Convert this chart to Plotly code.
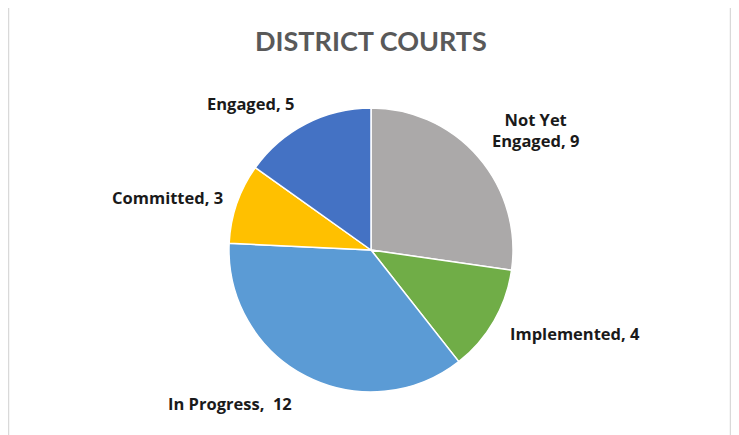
import plotly.graph_objects as go

# data
categories = ["Not Yet Engaged", "Implemented", "In Progress", "Committed", "Engaged"]
values = [9, 4, 12, 3, 5]
label_texts = ["Not Yet<br>Engaged, 9", "Implemented, 4", "In Progress,  12", "Committed, 3", "Engaged, 5"]
colors = ["#ABA9A9", "#70AD47", "#5B9BD5", "#FFC000", "#4472C4"]

# the page body adds an 8px margin, so the figure is drawn 8px smaller
# and all pixel positions below are shifted back by that offset
OFF = 8
W, H = 739 - OFF, 435 - OFF
label_pos = [(535, 130), (575, 333), (230, 403), (167, 197), (250, 103)]


def px(x):
    return (x - OFF) / W


def py(y):
    return 1 - (y - OFF) / H


fig = go.Figure()
fig.add_trace(go.Pie(
    labels=categories,
    values=values,
    sort=False,
    direction="clockwise",
    rotation=0,
    marker=dict(colors=colors, line=dict(color="white", width=1.5)),
    textinfo="none",
    hoverinfo="label+value",
    showlegend=False,
    domain=dict(x=[px(371 - 142), px(371 + 142)], y=[py(392), py(108)]),
))

annotations = [dict(
    text="DISTRICT COURTS", x=px(371), y=py(41), xref="paper", yref="paper",
    xanchor="center", yanchor="middle", showarrow=False,
    font=dict(family="Lato", size=27, color="#595959", weight="bold"),
)]
for txt, (lx, ly) in zip(label_texts, label_pos):
    annotations.append(dict(
        text=txt, x=px(lx), y=py(ly), xref="paper", yref="paper",
        xanchor="center", yanchor="middle", showarrow=False, align="center",
        font=dict(family="Open Sans", size=16.5, color="#1a1a1a", weight="bold"),
    ))

fig.update_layout(
    width=W, height=H,
    margin=dict(l=0, r=0, t=0, b=0),
    paper_bgcolor="white",
    plot_bgcolor="white",
    annotations=annotations,
    shapes=[dict(type="rect", xref="paper", yref="paper",
                 x0=px(8.5), x1=px(730.5), y0=-0.05, y1=py(6),
                 line=dict(color="#D9D9D9", width=1.5))],
)

fig.write_html("out.html")
